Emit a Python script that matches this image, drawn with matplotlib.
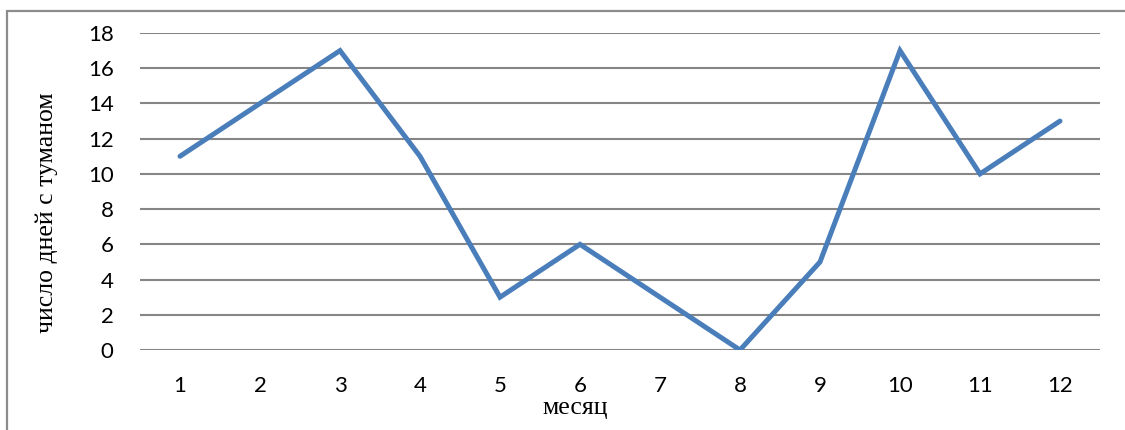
import matplotlib.pyplot as plt
from matplotlib.patches import Rectangle

# monthly number of foggy days
months = [1, 2, 3, 4, 5, 6, 7, 8, 9, 10, 11, 12]
fog_days = [11, 14, 17, 11, 3, 6, 3, 0, 5, 17, 10, 13]
y_ticks = [0, 2, 4, 6, 8, 10, 12, 14, 16, 18]

W, H = 1125, 430
fig = plt.figure(figsize=(W / 100, H / 100), dpi=100, facecolor="white")

# plot area in pixel coordinates
left, right, top, bottom = 140, 1100, 33, 350
ax = fig.add_axes([left / W, 1 - bottom / H, (right - left) / W, (bottom - top) / H])

# chart frame (left and top edges visible)
fig.patches.append(Rectangle((7 / W, -0.1), 1.2, 1 - 11 / H + 0.1,
                             transform=fig.transFigure, fill=False,
                             edgecolor="#8c8c8c", linewidth=1.6))

x = list(range(len(months)))
ax.plot(x, fog_days, color="#4a7ebb", linewidth=3.6,
        solid_capstyle="round", solid_joinstyle="miter", zorder=3)

ax.set_xlim(-0.5, len(months) - 0.5)
ax.set_ylim(0, 18)
ax.set_yticks(y_ticks)
ax.set_xticks(x)
ax.set_xticklabels([str(m) for m in months])

for yv in y_ticks:
    ax.axhline(yv, color="#868686", linewidth=1.5, zorder=1)

for s in ax.spines.values():
    s.set_visible(False)
ax.tick_params(length=0, labelsize=16)
ax.tick_params(axis="y", pad=19)
ax.tick_params(axis="x", pad=19)
for lbl in ax.get_xticklabels() + ax.get_yticklabels():
    lbl.set_fontfamily("Lato")

fig.text(47 / W, 1 - 213 / H, "число дней с туманом", rotation=90,
         ha="center", va="center", fontsize=18.5, family="Liberation Serif")
fig.text(575 / W, 1 - 408 / H, "месяц", ha="center", va="center",
         fontsize=18.5, family="Liberation Serif")

fig.savefig("out.png", dpi=100, facecolor="white")
